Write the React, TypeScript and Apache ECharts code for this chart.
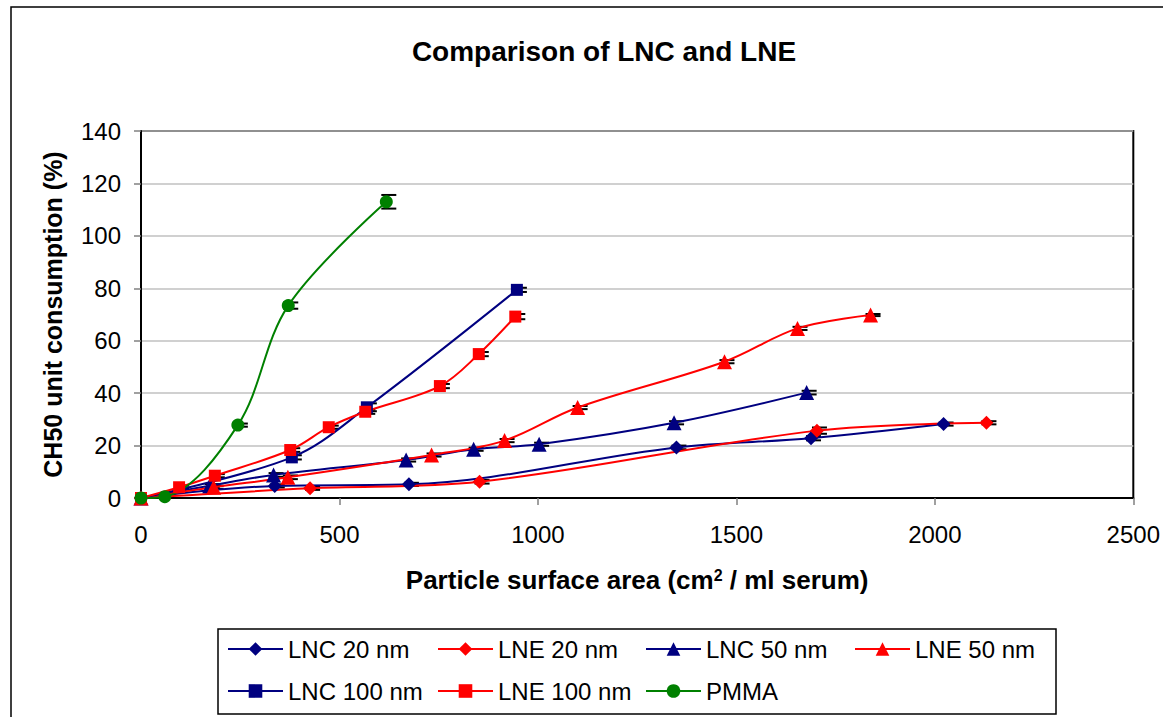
import React, { useEffect, useRef } from "react";
import * as echarts from "echarts";

const FONT = "'Liberation Sans', Arial, sans-serif";

const seriesNames = ["LNC 20 nm", "LNE 20 nm", "LNC 50 nm", "LNE 50 nm", "LNC 100 nm", "LNE 100 nm", "PMMA"];
const seriesColors = ["#000080", "#FF0000", "#000080", "#FF0000", "#000080", "#FF0000", "#008000"];
const seriesSymbols = ["diamond", "diamond", "triangle", "triangle", "rect", "rect", "circle"];
const seriesSymbolSizes = [14, 14, 15, 15, 12, 12, 13];

const lnc20X = [0, 337, 675, 1349, 1688, 2022];
const lnc20Y = [0, 4.6, 5.2, 19.3, 22.8, 28.2];
const lnc20Err = [0, 0.6, 0.6, 0.7, 0.8, 0.6];

const lne20X = [0, 426, 853, 1703, 2130];
const lne20Y = [0, 3.7, 6.2, 25.7, 28.7];
const lne20Err = [0, 0.6, 0.7, 1.2, 0.6];

const lnc50X = [0, 173, 334, 668, 838, 1003, 1343, 1677];
const lnc50Y = [0, 4.7, 8.8, 14.5, 18.6, 20.5, 28.7, 40.2];
const lnc50Err = [0, 0.6, 0.7, 0.6, 0.6, 0.6, 0.6, 0.7];

const lne50X = [0, 183, 370, 732, 916, 1100, 1470, 1654, 1838];
const lne50Y = [0, 4.1, 7.9, 16.4, 21.9, 34.5, 52.0, 64.7, 69.8];
const lne50Err = [0, 0.6, 0.7, 0.6, 0.6, 0.6, 0.6, 0.6, 0.4];

const lnc100X = [0, 380, 569, 947];
const lnc100Y = [0, 15.5, 34.6, 79.4];
const lnc100Err = [0, 0.8, 1.5, 0.8];

const lne100X = [0, 96, 186, 376, 473, 565, 753, 851, 943];
const lne100Y = [0, 4.1, 8.5, 18.3, 27.0, 32.9, 42.7, 54.9, 69.2];
const lne100Err = [0, 0.6, 0.6, 0.7, 0.6, 0.8, 0.8, 0.8, 1.0];

const pmmaX = [0, 60, 244, 371, 618];
const pmmaY = [0, 0.5, 27.8, 73.4, 113.0];
const pmmaErr = [0, 0, 0.6, 1.2, 2.6];

const allX = [lnc20X, lne20X, lnc50X, lne50X, lnc100X, lne100X, pmmaX];
const allY = [lnc20Y, lne20Y, lnc50Y, lne50Y, lnc100Y, lne100Y, pmmaY];
const allErr = [lnc20Err, lne20Err, lnc50Err, lne50Err, lnc100Err, lne100Err, pmmaErr];

const xMin = 0, xMax = 2500, xStep = 500;
const yMin = 0, yMax = 140, yStep = 20;

const legendCols = [227, 437, 645, 854];
const legendRows = [637, 679];

export default function App() {
  const ref = useRef<HTMLDivElement>(null);
  useEffect(() => {
    if (!ref.current) return;
    const chart = echarts.init(ref.current, undefined, { renderer: "svg" });

    const lineSeries: any[] = seriesNames.map((name, i) => ({
      name,
      type: "line",
      data: allX[i].map((x, j) => [x, allY[i][j]]),
      smooth: 0.35,
      symbol: seriesSymbols[i],
      symbolSize: seriesSymbolSizes[i],
      showAllSymbol: true,
      itemStyle: { color: seriesColors[i] },
      lineStyle: { color: seriesColors[i], width: 2 },
      z: 3,
    }));

    const errSeries: any[] = seriesNames.map((name, i) => ({
      name: name + " error",
      type: "custom",
      z: 2,
      silent: true,
      data: allX[i].map((x, j) => [x, allY[i][j], allErr[i][j]]),
      encode: { x: 0, y: 1 },
      renderItem: (params: any, api: any) => {
        const x = api.value(0);
        const y = api.value(1);
        const e = api.value(2);
        if (!e) return { type: "group", children: [] };
        const top = api.coord([x, y + e]);
        const bot = api.coord([x, y - e]);
        const st = { stroke: "#000", lineWidth: 2 };
        return {
          type: "group",
          children: [
            { type: "line", shape: { x1: top[0], y1: top[1], x2: bot[0], y2: bot[1] }, style: st },
            { type: "line", shape: { x1: top[0] - 5, y1: top[1], x2: top[0] + 10, y2: top[1] }, style: st },
            { type: "line", shape: { x1: bot[0] - 5, y1: bot[1], x2: bot[0] + 10, y2: bot[1] }, style: st },
          ],
        };
      },
    }));

    const legends = seriesNames.map((name, i) => ({
      data: [name],
      left: legendCols[i % 4],
      top: legendRows[Math.floor(i / 4)],
      padding: 0,
      itemWidth: 55,
      itemHeight: 17,
      selectedMode: false,
      textStyle: { fontSize: 24, color: "#000", fontFamily: FONT },
    }));

    chart.setOption({
      animation: false,
      backgroundColor: "#fff",
      title: {
        text: "Comparison of LNC and LNE",
        left: 599,
        top: 32,
        textAlign: "center",
        textStyle: { fontSize: 28, fontWeight: "bold", color: "#000", fontFamily: FONT },
      },
      grid: {
        left: 141,
        top: 131,
        width: 996,
        height: 367,
        show: true,
        borderColor: "#000",
        borderWidth: 2,
        backgroundColor: "transparent",
      },
      legend: legends,
      xAxis: {
        type: "value",
        min: xMin,
        max: xMax,
        interval: xStep,
        name: "{a|Particle surface area (cm}{s|2}{a| / ml serum)}",
        nameLocation: "middle",
        nameGap: 69,
        nameTextStyle: {
          rich: {
            a: { fontSize: 26, fontWeight: "bold", color: "#000", fontFamily: FONT },
            s: { fontSize: 16, fontWeight: "bold", color: "#000", fontFamily: FONT, verticalAlign: "top", padding: [0, 0, 10, 0] },
          },
        },
        axisLine: { lineStyle: { color: "#000", width: 2 } },
        axisTick: { show: true, length: 7, lineStyle: { color: "#808080", width: 1.5 } },
        axisLabel: { fontSize: 24, color: "#000", fontFamily: FONT, margin: 24, formatter: (v: number) => String(v) },
        splitLine: { show: false },
      },
      yAxis: {
        type: "value",
        min: yMin,
        max: yMax,
        interval: yStep,
        name: "CH50 unit consumption (%)",
        nameLocation: "middle",
        nameGap: 76,
        nameTextStyle: { fontSize: 25, fontWeight: "bold", color: "#000", fontFamily: FONT },
        axisLine: { lineStyle: { color: "#000", width: 2 } },
        axisTick: { show: true, length: 7, lineStyle: { color: "#808080", width: 1.5 } },
        axisLabel: { fontSize: 24, color: "#000", fontFamily: FONT, margin: 20, formatter: (v: number) => String(v) },
        splitLine: { show: true, lineStyle: { color: "#c0c0c0", width: 1.5 } },
      },
      graphic: [
        { type: "rect", shape: { x: 11, y: 7, width: 1400, height: 900 }, style: { fill: "none", stroke: "#000", lineWidth: 1.5 }, silent: true, z: 0 },
        { type: "rect", shape: { x: 218, y: 629, width: 838, height: 85 }, style: { fill: "none", stroke: "#000", lineWidth: 1.5 }, silent: true, z: 0 },
      ],
      series: [...errSeries, ...lineSeries],
    });
    return () => chart.dispose();
  }, []);
  return (
    <div
      ref={ref}
      style={{ position: "fixed", left: 0, top: 0, width: 1163, height: 717, background: "#fff" }}
    />
  );
}
